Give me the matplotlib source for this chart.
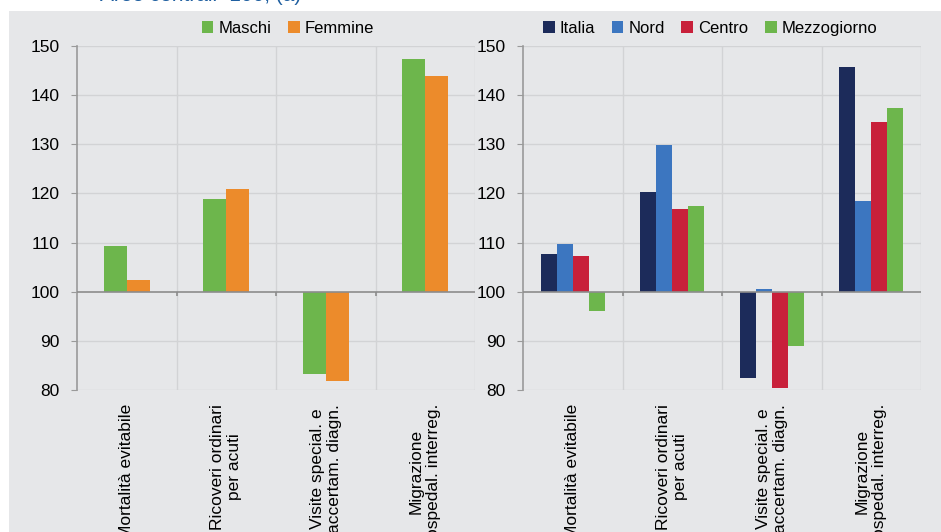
import numpy as np
import matplotlib.pyplot as plt
from matplotlib.patches import Rectangle

plt.rcParams['font.family'] = ['Liberation Sans', 'DejaVu Sans']
plt.rcParams['font.size'] = 12

categories = ['Mortalità evitabile', 'Ricoveri ordinari\nper acuti',
              'Visite special. e\naccertam. diagn.', 'Migrazione\nospedal. interreg.']

# pannello sinistro: per genere
maschi = [109.3, 118.9, 83.3, 147.4]
femmine = [102.3, 121.0, 81.9, 143.9]

# pannello destro: per area
italia = [107.6, 120.3, 82.4, 145.7]
nord = [109.8, 129.9, 100.6, 118.5]
centro = [107.3, 116.9, 80.5, 134.5]
mezzogiorno = [96.1, 117.4, 88.9, 137.4]

BG = '#e6e7e9'
GRID = '#d2d3d5'

fig = plt.figure(figsize=(9.41, 5.32), dpi=100)
fig.patch.set_facecolor('white')
fig.patches.append(Rectangle((9 / 941, 0), 1, 1 - 11 / 532, transform=fig.transFigure,
                             facecolor=BG, edgecolor='none', zorder=-5))
fig.text(100 / 941, 1 - 1.2 / 532, 'Aree centrali=100; (a)', color='#1f5fa0',
         fontsize=15, va='baseline', ha='left')


def draw_panel(ax, series, names, colors, width, legend_x):
    ax.set_facecolor(BG)
    x = np.arange(len(categories))
    n = len(series)
    for i, (vals, name, col) in enumerate(zip(series, names, colors)):
        vals = np.array(vals)
        off = (i - (n - 1) / 2) * width
        ax.bar(x + off, vals - 100, width, bottom=100, color=col, label=name,
               edgecolor='none', zorder=3)
    ax.set_xlim(-0.5, len(categories) - 0.5)
    ax.set_ylim(80, 150)
    ax.set_yticks(np.arange(80, 151, 10))
    for yv in np.arange(80, 151, 10):
        if yv != 100:
            ax.axhline(yv, color=GRID, lw=1, zorder=1)
    for b in np.arange(0.5, len(categories), 1):
        ax.axvline(b, color=GRID, lw=1, zorder=1)
    ax.axhline(100, color='#8c8c8c', lw=1.2, zorder=4)
    ax.vlines(np.arange(0.5, len(categories) - 1, 1), 99.2, 100, color='#8c8c8c', lw=1.2, zorder=4)
    for s in ['top', 'right', 'bottom']:
        ax.spines[s].set_visible(False)
    ax.spines['left'].set_color('#9a9a9a')
    ax.spines['left'].set_linewidth(1.2)
    ax.tick_params(axis='y', length=4.5, color='#9a9a9a', labelsize=12.5, pad=8)
    ax.set_xticks(x)
    ax.set_xticklabels(categories, rotation=90, multialignment='center', fontsize=12.5)
    ax.tick_params(axis='x', length=0, pad=10)
    ax.legend(loc='lower center', bbox_to_anchor=(legend_x, 1.01), ncol=n, frameon=False,
              handlelength=0.7, handleheight=0.7, handletextpad=0.3, columnspacing=1.0,
              borderaxespad=0, fontsize=12)


ax1 = fig.add_axes([77 / 941, 1 - 390 / 532, 398 / 941, 344 / 532])
draw_panel(ax1, [maschi, femmine], ['Maschi', 'Femmine'], ['#6db64c', '#ec8b2b'], 0.23, 0.53)

ax2 = fig.add_axes([523 / 941, 1 - 390 / 532, 398 / 941, 344 / 532])
draw_panel(ax2, [italia, nord, centro, mezzogiorno], ['Italia', 'Nord', 'Centro', 'Mezzogiorno'],
           ['#1c2b5a', '#3c76c0', '#c8203a', '#6db64c'], 0.16, 0.47)

fig.savefig('out.png', dpi=100, facecolor='white')
